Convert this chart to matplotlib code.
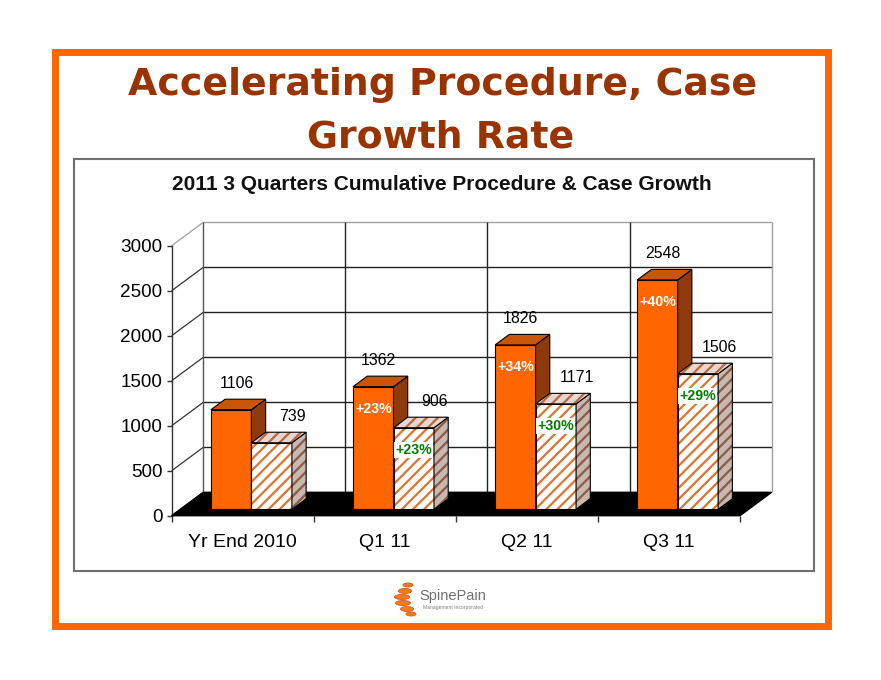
import matplotlib
matplotlib.use('Agg')
import matplotlib.pyplot as plt
from matplotlib.patches import Polygon, Rectangle, Ellipse
from matplotlib import font_manager

# ---------------- data ----------------
categories = ['Yr End 2010', 'Q1 11', 'Q2 11', 'Q3 11']
procedures = [1106, 1362, 1826, 2548]
cases = [739, 906, 1171, 1506]
procedure_growth = [None, 23, 34, 40]
case_growth = [None, 23, 30, 29]
y_ticks = [0, 500, 1000, 1500, 2000, 2500, 3000]
title_line1 = 'Accelerating Procedure, Case'
title_line2 = 'Growth Rate'
chart_title = '2011 3 Quarters Cumulative Procedure & Case Growth'

# ---------------- fonts ----------------
names = {f.name for f in font_manager.fontManager.ttflist}
if 'Liberation Sans Narrow' in names:
    NARROW, NS = 'Liberation Sans Narrow', 1.0
else:
    NARROW, NS = 'Liberation Sans', 0.85
SANS = 'Liberation Sans'

W, H = 881, 680
fig = plt.figure(figsize=(W / 100, H / 100), dpi=100)
fig.patch.set_facecolor('white')

# background / decoration axes in pixel coordinates
bg = fig.add_axes([0, 0, 1, 1])
bg.set_xlim(0, W)
bg.set_ylim(H, 0)
bg.axis('off')

bg.add_patch(Rectangle((54.5, 51.5), 773, 574, fill=False, ec='#FF6600', lw=5))
bg.add_patch(Rectangle((74, 159), 740, 412, fill=False, ec='#6E6E6E', lw=1.5))

renderer = fig.canvas.get_renderer()


def fit_text(t, target_w):
    bb = t.get_window_extent(renderer)
    t.set_fontsize(t.get_fontsize() * target_w / bb.width)


TITLE_C = '#993300'
t1 = bg.text(443, 95, title_line1, ha='center', va='baseline', color=TITLE_C,
             fontsize=27, fontweight='bold', family='DejaVu Sans')
fit_text(t1, 630)
t2 = bg.text(441, 148, title_line2, ha='center', va='baseline', color=TITLE_C,
             fontsize=t1.get_fontsize(), fontweight='bold', family='DejaVu Sans')
t3 = bg.text(442, 190.5, chart_title, ha='center', va='baseline', color='#111111',
             fontsize=13, fontweight='bold', family=SANS)
fit_text(t3, 536)

# logo
for cx, cy, w, h in [(408, 585, 10, 4), (405, 591, 13, 5), (402, 597, 15, 5),
                     (403, 603, 15, 5), (407, 609, 13, 5), (411, 614, 10, 4)]:
    bg.add_patch(Ellipse((cx, cy), w, h, fc='#F47A20', ec='#D85A10', lw=0.6))
bg.text(419, 600, 'SpinePain', ha='left', va='baseline', color='#707070',
        fontsize=10.5, family=SANS)
bg.text(423, 609, 'Management Incorporated', ha='left', va='baseline',
        color='#808080', fontsize=3.6, family=SANS)

# ---------------- chart axes ----------------
x0px, x1px = 171.7, 740.0
y0px, y3000px = 515.7, 245.7
ax = fig.add_axes([x0px / W, (H - y0px) / H, (x1px - x0px) / W, (y0px - y3000px) / H])
ax.set_xlim(0, len(categories))
ax.set_ylim(0, 3000)
ax.patch.set_alpha(0)
for s in ['top', 'right', 'bottom']:
    ax.spines[s].set_visible(False)
ax.spines['left'].set_color('#333333')
ax.spines['left'].set_linewidth(1)
ax.spines['left'].set_zorder(1.5)

ax.set_yticks(y_ticks)
ax.set_yticklabels([str(v) for v in y_ticks], family=NARROW, fontsize=16 * NS)
ax.tick_params(axis='y', direction='out', length=3.6, width=1, pad=3, color='#333333')
ax.set_xticks([i + 0.5 for i in range(len(categories))])
ax.set_xticklabels(categories, family=NARROW, fontsize=16.5 * NS)
ax.tick_params(axis='x', which='major', length=0, pad=13)
ax.set_xticks(range(len(categories) + 1), minor=True)
ax.tick_params(axis='x', which='minor', direction='out', length=4, width=1, color='#333333')

# 3D depth vector in data units
px_per_cat = (x1px - x0px) / len(categories)
px_per_val = (y0px - y3000px) / 3000
DX = 31.6 / px_per_cat
DY = 23.4 / px_per_val
N = len(categories)
VMAX = y_ticks[-1]


def line(xs, ys, color, lw=1.0, z=1):
    ax.plot(xs, ys, color=color, lw=lw, clip_on=False, zorder=z, solid_capstyle='butt')


# back wall & left wall
ax.add_patch(Polygon([(DX, DY), (N + DX, DY), (N + DX, VMAX + DY), (DX, VMAX + DY)],
                     closed=True, fc='white', ec='none', clip_on=False, zorder=0.5))
for v in y_ticks:
    col = '#A0A0A0' if v == VMAX else '#222222'
    if v > 0:
        line([DX, N + DX], [v + DY, v + DY], col, 1.0)
    line([0, DX], [v, v + DY], '#A0A0A0' if v == VMAX else '#333333', 0.9)
line([DX, DX], [DY, VMAX + DY], '#555555', 1.0)
line([N + DX, N + DX], [DY, VMAX + DY], '#A0A0A0', 1.0)
for k in range(1, N):
    line([k + DX, k + DX], [DY, VMAX + DY], '#222222', 1.0)

# floor
ax.add_patch(Polygon([(0, 0), (N, 0), (N + DX, DY), (DX, DY)], closed=True,
                     fc='black', ec='black', lw=1, clip_on=False, zorder=2))

# bars
F0, F1 = 0.275, 0.725
BW = 0.285
plt.rcParams['hatch.linewidth'] = 1.6


def faces(xa, xb, h):
    ox0, oy0 = F0 * DX, F0 * DY
    ox1, oy1 = F1 * DX, F1 * DY
    front = [(xa + ox0, oy0), (xb + ox0, oy0), (xb + ox0, h + oy0), (xa + ox0, h + oy0)]
    side = [(xb + ox0, oy0), (xb + ox1, oy1), (xb + ox1, h + oy1), (xb + ox0, h + oy0)]
    top = [(xa + ox0, h + oy0), (xb + ox0, h + oy0), (xb + ox1, h + oy1), (xa + ox1, h + oy1)]
    return front, side, top


def solid(poly, fc, z):
    ax.add_patch(Polygon(poly, closed=True, fc=fc, ec='black', lw=0.8,
                         clip_on=False, zorder=z, joinstyle='miter'))


def hatched(poly, fc, hc, z):
    ax.add_patch(Polygon(poly, closed=True, fc=fc, ec=hc, lw=0, hatch='///',
                         clip_on=False, zorder=z))
    ax.add_patch(Polygon(poly, closed=True, fill=False, ec='black', lw=0.8,
                         clip_on=False, zorder=z + 0.01, joinstyle='miter'))


LBL_UP = 26 / px_per_val
PCT_DN = 22 / px_per_val
z = 3
for i in range(N):
    # procedure bar
    xa, xb = i + 0.5 - BW, i + 0.5
    fr, sd, tp = faces(xa, xb, procedures[i])
    solid(fr, '#FF6600', z)
    solid(sd, '#8E3A0C', z + 0.1)
    solid(tp, '#C85508', z + 0.2)
    fcx = (xa + xb) / 2 + F0 * DX
    ax.text(fcx + 5.5 / px_per_cat, procedures[i] + F0 * DY + LBL_UP, str(procedures[i]),
            ha='center', va='center', family=NARROW, fontsize=13.5 * NS, zorder=20)
    if procedure_growth[i] is not None:
        ax.text(fcx, procedures[i] + F0 * DY - PCT_DN, '+%d%%' % procedure_growth[i],
                ha='center', va='center', family=NARROW, fontsize=12 * NS,
                fontweight='bold', color='white', zorder=20)
    z += 1
    # case bar
    xa, xb = i + 0.5, i + 0.5 + BW
    fr, sd, tp = faces(xa, xb, cases[i])
    hatched(fr, 'white', '#DC7430', z)
    hatched(sd, '#C9B8B0', '#8C5A45', z + 0.1)
    hatched(tp, '#EAD6CC', '#B06A48', z + 0.2)
    fcx = (xa + xb) / 2 + F0 * DX
    ax.text(fcx + 21 / px_per_cat, cases[i] + F0 * DY + LBL_UP, str(cases[i]),
            ha='center', va='center', family=NARROW, fontsize=13.5 * NS, zorder=20)
    if case_growth[i] is not None:
        ax.text(fcx, cases[i] + F0 * DY - PCT_DN, '+%d%%' % case_growth[i],
                ha='center', va='center', family=NARROW, fontsize=12 * NS,
                fontweight='bold', color='#008000', zorder=20,
                bbox=dict(boxstyle='square,pad=0.08', fc='white', ec='none'))
    z += 1

fig.savefig('out.png', dpi=100)
